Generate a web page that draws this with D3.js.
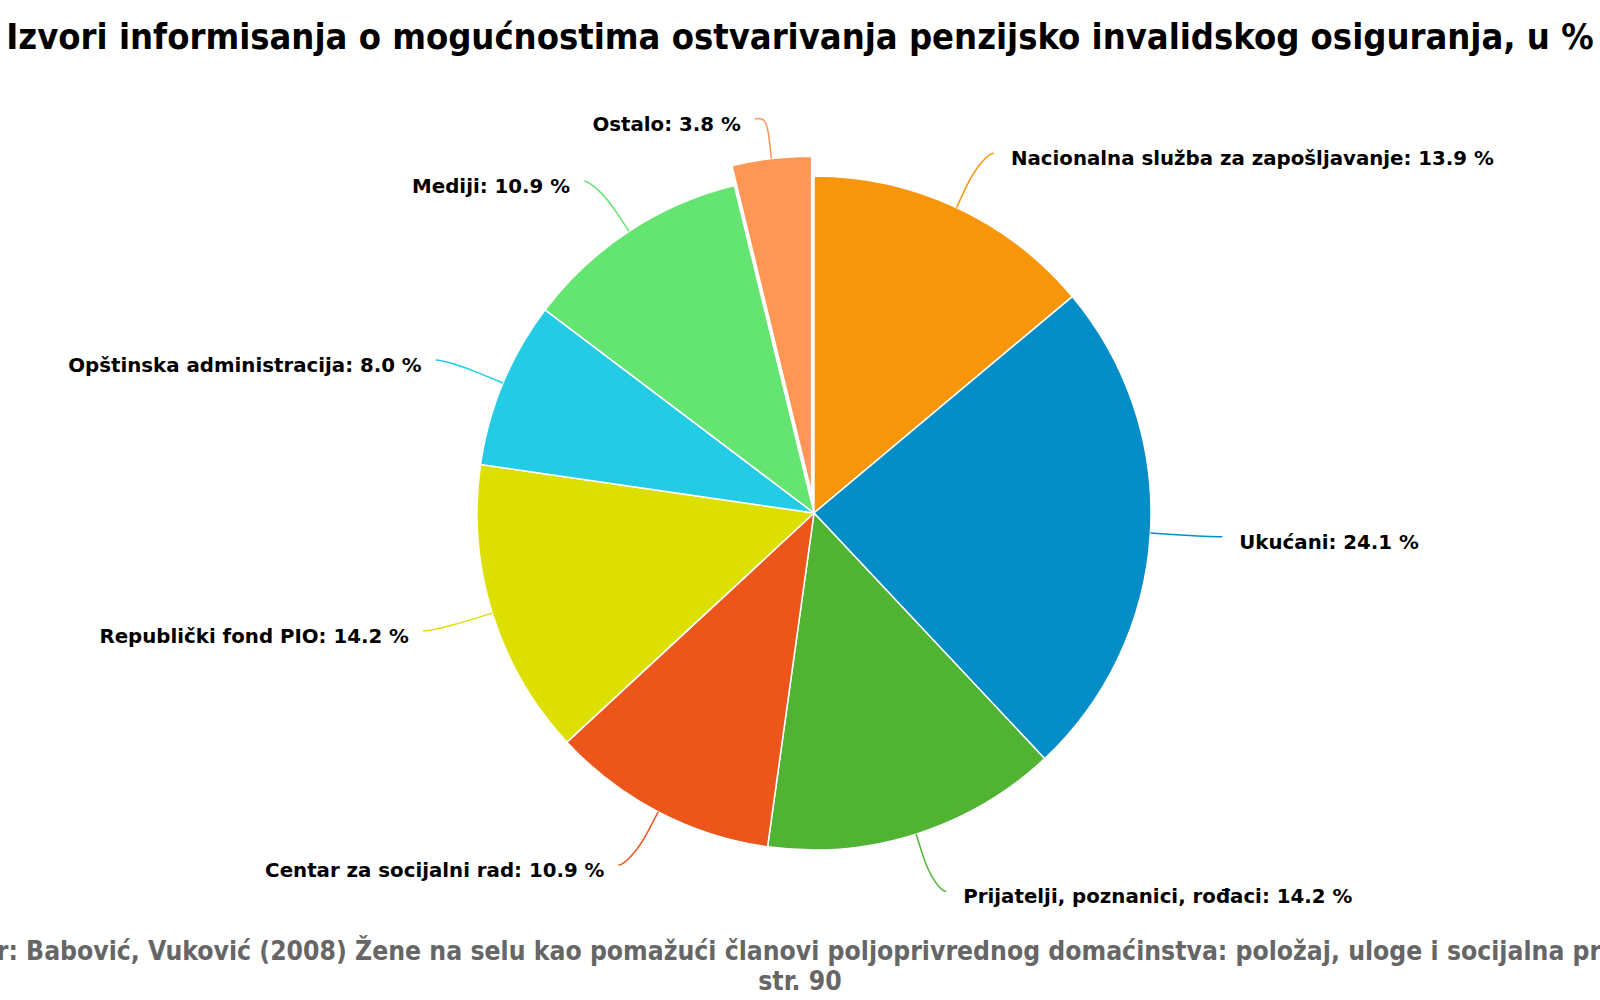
<!DOCTYPE html>
<html>
<head>
<meta charset="utf-8">
<script src="https://cdn.jsdelivr.net/npm/d3@7"></script>
<style>
  html, body { margin: 0; padding: 0; background: #fff; }
  svg { display: block; }
</style>
</head>
<body>
<svg id="chart" width="1600" height="1000"></svg>
<script>
// ---- data ----
const titleText = "Izvori informisanja o mogućnostima ostvarivanja penzijsko invalidskog osiguranja, u %";
const subtitleLines = [
  "Izvor: Babović, Vuković (2008) Žene na selu kao pomažući članovi poljoprivrednog domaćinstva: položaj, uloge i socijalna prava,",
  "str. 90"
];
const categories = [
  "Nacionalna služba za zapošljavanje",
  "Ukućani",
  "Prijatelji, poznanici, rođaci",
  "Centar za socijalni rad",
  "Republički fond PIO",
  "Opštinska administracija",
  "Mediji",
  "Ostalo"
];
const values = [13.9, 24.1, 14.2, 10.9, 14.2, 8.0, 10.9, 3.8];
const colors = ["#F7960A", "#058DC7", "#50B432", "#ED561B", "#DDDF00", "#24CBE5", "#64E572", "#FF9655"];
const slicedCategories = ["Ostalo"];

// ---- layout ----
const cx = 814, cy = 513, r = 337;
const slicedOffset = 20;
const labelRadius = r + 60;
const labelShift = 12;
const breakRadius = r + 22;

const svg = d3.select("#chart");
const condensed = "'DejaVu Sans Condensed', 'DejaVu Sans', sans-serif";

svg.append("text")
  .attr("x", 800).attr("y", 49)
  .attr("text-anchor", "middle")
  .style("font-family", condensed)
  .style("font-stretch", "condensed")
  .style("font-weight", "bold")
  .style("font-size", "36px")
  .style("fill", "#000")
  .text(titleText);

svg.selectAll("text.sub").data(subtitleLines).enter().append("text")
  .attr("class", "sub")
  .attr("x", 800).attr("y", (d, i) => 960 + i * 30)
  .attr("text-anchor", "middle")
  .style("font-family", condensed)
  .style("font-stretch", "condensed")
  .style("font-weight", "bold")
  .style("font-size", "26.3px")
  .style("fill", "#666666")
  .text(d => d);

const data = categories.map((c, i) => ({ name: c, value: values[i], color: colors[i], sliced: slicedCategories.includes(c) }));
const pie = d3.pie().sort(null).value(d => d.value).startAngle(0).endAngle(2 * Math.PI);
const arcs = pie(data);
const arc = d3.arc().innerRadius(0).outerRadius(r);

const g = svg.append("g");

arcs.forEach(a => {
  const mid = (a.startAngle + a.endAngle) / 2;
  a.mid = mid;
  const off = a.data.sliced ? slicedOffset : 0;
  a.ox = cx + off * Math.sin(mid);
  a.oy = cy - off * Math.cos(mid);
});

g.selectAll("path.slice").data(arcs).enter().append("path")
  .attr("class", "slice")
  .attr("transform", d => `translate(${d.ox},${d.oy})`)
  .attr("d", arc)
  .attr("fill", d => d.data.color)
  .attr("stroke", "#ffffff")
  .attr("stroke-width", 1.5)
  .attr("stroke-linejoin", "round");

// connectors & labels
const lab = svg.append("g");
arcs.forEach(a => {
  const s = Math.sin(a.mid), c = Math.cos(a.mid);
  const sign = s >= 0 ? 1 : -1;
  const ax = cx + labelRadius * s + sign * labelShift;
  const ay = cy - labelRadius * c;
  const tx = a.ox + r * s, ty = a.oy - r * c;
  const bx = a.ox + breakRadius * s, by = a.oy - breakRadius * c;
  const p = d3.path();
  p.moveTo(ax, ay);
  p.bezierCurveTo(ax - sign * 6, ay, 2 * bx - tx, 2 * by - ty, bx, by);
  p.lineTo(tx, ty);
  lab.append("path")
    .attr("d", p.toString())
    .attr("fill", "none")
    .attr("stroke", a.data.color)
    .attr("stroke-width", 1.5);
  lab.append("text")
    .attr("x", ax + sign * (sign > 0 ? 17 : 14))
    .attr("y", ay + 12)
    .attr("text-anchor", sign > 0 ? "start" : "end")
    .style("font-family", "'DejaVu Sans', sans-serif")
    .style("font-weight", "bold")
    .style("font-size", "19.8px")
    .style("fill", "#000")
    .text(`${a.data.name}: ${a.data.value.toFixed(1)} %`);
});
</script>
</body>
</html>
